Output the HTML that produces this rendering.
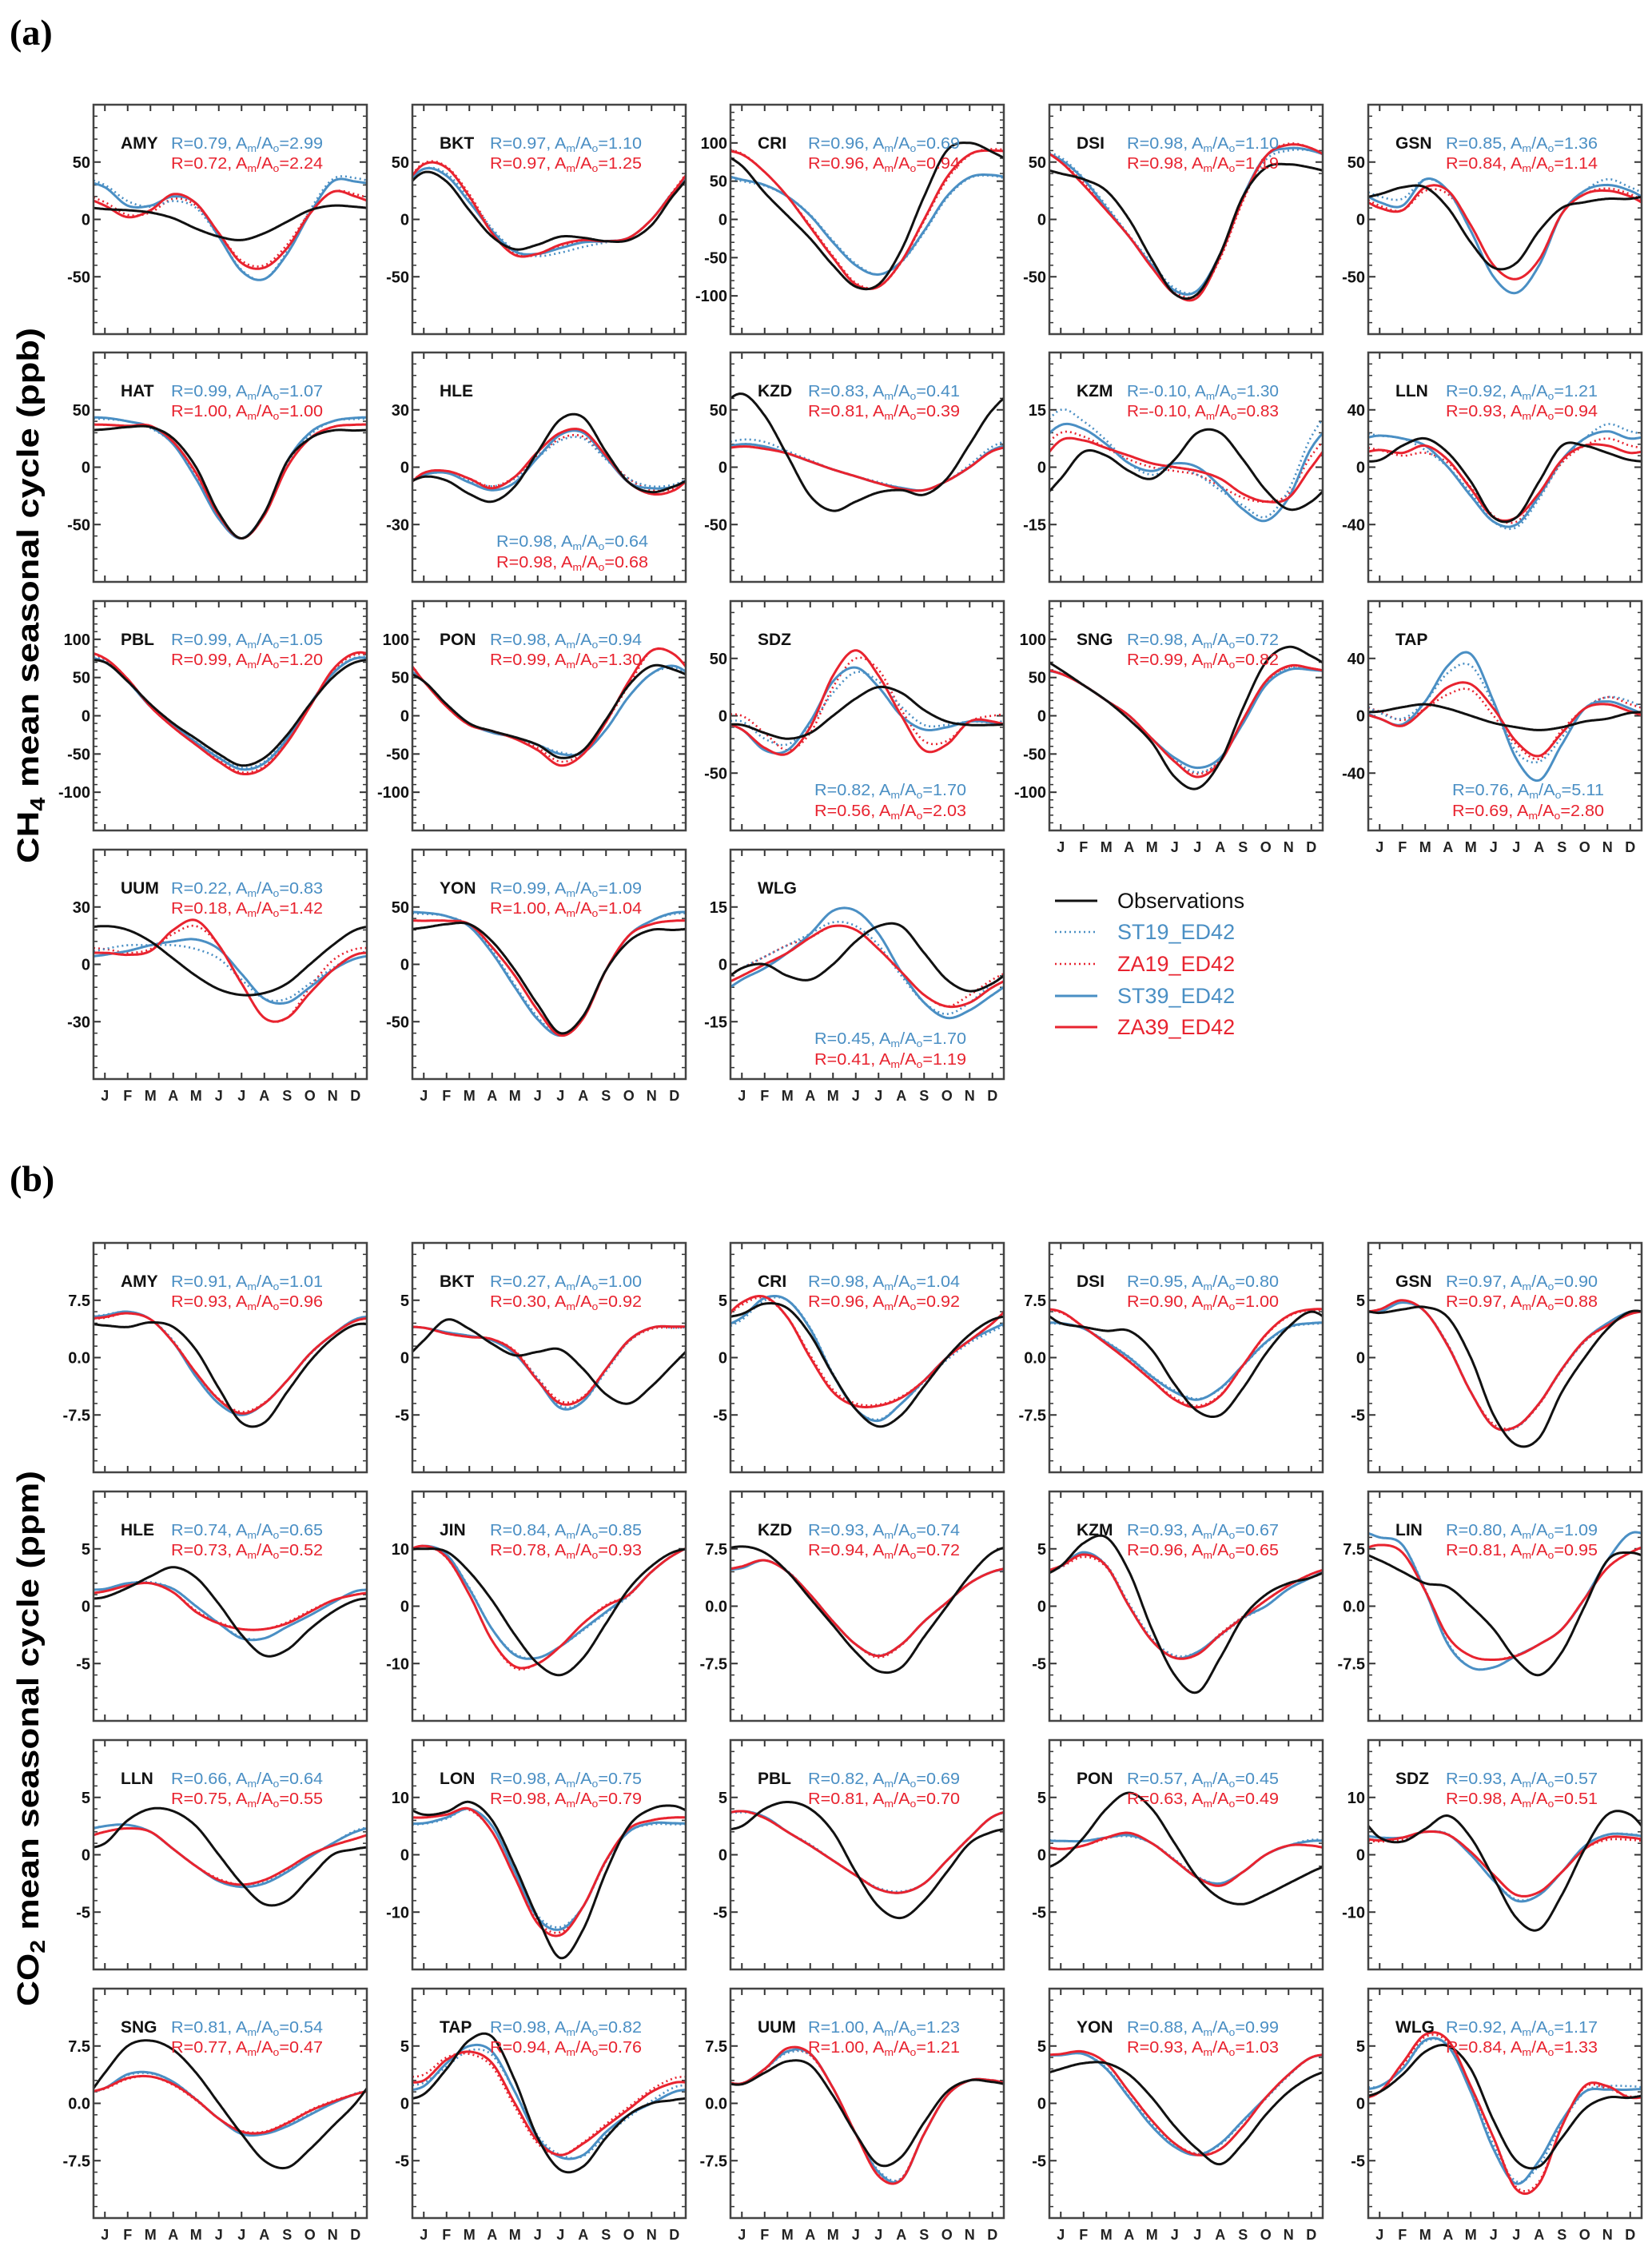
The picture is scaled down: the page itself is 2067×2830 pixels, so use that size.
<!DOCTYPE html>
<html><head><meta charset="utf-8">
<style>
html,body{margin:0;padding:0;background:#fff;}
svg{display:block;font-family:"Liberation Sans",Arial,sans-serif;}
</style></head>
<body>
<svg id="fig" xmlns="http://www.w3.org/2000/svg" width="2067" height="2830" viewBox="0 0 2067 2830">
<rect x="0" y="0" width="2067" height="2830" fill="#fff"/>
<text x="12" y="56" font-family="Liberation Serif, serif" font-weight="bold" font-size="46">(a)</text>
<text x="12" y="1490" font-family="Liberation Serif, serif" font-weight="bold" font-size="46">(b)</text>
<text transform="translate(48,745) rotate(-90)" text-anchor="middle" font-weight="bold" font-size="38" textLength="670" lengthAdjust="spacingAndGlyphs">CH<tspan font-size="26" dy="8">4</tspan><tspan dy="-8"> mean seasonal cycle (ppb)</tspan></text>
<text transform="translate(48,2175) rotate(-90)" text-anchor="middle" font-weight="bold" font-size="38" textLength="670" lengthAdjust="spacingAndGlyphs">CO<tspan font-size="26" dy="8">2</tspan><tspan dy="-8"> mean seasonal cycle (ppm)</tspan></text>
<g id="legend">
  <line x1="1320" y1="1127" x2="1373" y2="1127" stroke="#111" stroke-width="3"/>
  <text x="1398" y="1136" font-size="27" fill="#111">Observations</text>
  <line x1="1320" y1="1166" x2="1373" y2="1166" stroke="#4a8fc4" stroke-width="2.5" stroke-dasharray="2,4"/>
  <text x="1398" y="1175" font-size="27" fill="#4a8fc4">ST19_ED42</text>
  <line x1="1320" y1="1206" x2="1373" y2="1206" stroke="#e8232f" stroke-width="2.5" stroke-dasharray="2,4"/>
  <text x="1398" y="1215" font-size="27" fill="#e8232f">ZA19_ED42</text>
  <line x1="1320" y1="1246" x2="1373" y2="1246" stroke="#4a8fc4" stroke-width="3"/>
  <text x="1398" y="1255" font-size="27" fill="#4a8fc4">ST39_ED42</text>
  <line x1="1320" y1="1285" x2="1373" y2="1285" stroke="#e8232f" stroke-width="3"/>
  <text x="1398" y="1294" font-size="27" fill="#e8232f">ZA39_ED42</text>
</g>
<g id="panels"></g>
</svg>
<script>
// ===== CH4 data =====
const ch4Stations=["AMY","BKT","CRI","DSI","GSN","HAT","HLE","KZD","KZM","LLN","PBL","PON","SDZ","SNG","TAP","UUM","YON","WLG"];
const ch4Ymax=[100,100,150,100,100,100,60,100,30,80,150,150,100,150,80,60,100,30];
const ch4Step=[50,50,50,50,50,50,30,50,15,40,50,50,50,50,40,30,50,15];
const ch4StatsBottom=[0,0,0,0,0,0,1,0,0,0,0,0,1,0,1,0,0,1];
const ch4R_ST=["0.79","0.97","0.96","0.98","0.85","0.99","0.98","0.83","-0.10","0.92","0.99","0.98","0.82","0.98","0.76","0.22","0.99","0.45"];
const ch4A_ST=["2.99","1.10","0.69","1.10","1.36","1.07","0.64","0.41","1.30","1.21","1.05","0.94","1.70","0.72","5.11","0.83","1.09","1.70"];
const ch4R_ZA=["0.72","0.97","0.96","0.98","0.84","1.00","0.98","0.81","-0.10","0.93","0.99","0.99","0.56","0.99","0.69","0.18","1.00","0.41"];
const ch4A_ZA=["2.24","1.25","0.94","1.19","1.14","1.00","0.68","0.39","0.83","0.94","1.20","1.30","2.03","0.82","2.80","1.42","1.04","1.19"];
const ch4Obs=[
[9,8,6,1,-8,-15,-18,-12,-2,8,12,11],
[41,33,8,-15,-26,-22,-15,-16,-19,-18,-5,22],
[70,35,5,-25,-60,-88,-85,-40,30,90,100,88],
[40,35,25,0,-35,-65,-65,-30,20,45,48,45],
[22,28,28,10,-20,-42,-38,-10,10,15,18,18],
[33,35,35,25,0,-40,-62,-40,5,25,32,32],
[-5,-7,-14,-18,-10,8,25,26,8,-8,-13,-10],
[64,45,10,-25,-38,-30,-22,-20,-24,-10,20,50],
[-3,4,3,-1,-3,2,9,9,2,-6,-11,-9],
[5,15,20,10,-10,-35,-35,-10,15,15,10,5],
[70,45,15,-10,-30,-50,-65,-55,-25,15,50,70],
[45,15,-10,-20,-28,-38,-55,-45,-5,40,65,60],
[-8,-15,-20,-15,0,15,25,20,5,-5,-8,-8],
[60,40,20,-5,-35,-80,-95,-60,10,70,90,78],
[3,6,8,5,0,-5,-8,-10,-8,-4,-2,2],
[20,18,12,3,-6,-13,-16,-15,-10,0,10,18],
[32,35,35,20,-5,-35,-60,-45,-5,20,30,30],
[-1,0,-3,-4,0,6,10,10,3,-4,-7,-5]];
const ch4ST19=[
[30,16,11,16,10,-15,-44,-52,-28,8,35,36],
[44,40,18,-8,-27,-32,-29,-24,-20,-16,0,25],
[50,44,30,6,-28,-58,-72,-56,-17,28,54,57],
[54,36,12,-14,-38,-60,-62,-32,18,52,60,60],
[20,18,35,25,-10,-50,-64,-40,5,25,35,28],
[42,40,34,20,-10,-45,-62,-42,3,28,40,42],
[-4,-3,-7,-10,-6,5,14,15,4,-6,-10,-9],
[24,22,14,6,-2,-8,-13,-18,-20,-12,2,18],
[15,12,7,1,-2,0,-2,-6,-10,-13,-6,8],
[22,20,12,0,-18,-38,-42,-22,4,20,30,25],
[72,46,12,-12,-34,-54,-68,-60,-28,15,56,76],
[45,15,-10,-22,-28,-38,-48,-48,-18,25,55,62],
[-5,-20,-25,-8,20,38,30,8,-8,-8,-5,-6],
[56,40,20,0,-30,-58,-74,-58,-8,42,62,60],
[2,-2,10,30,35,8,-25,-32,-15,5,13,10],
[8,10,10,10,8,3,-8,-18,-18,-10,-2,5],
[44,42,34,12,-18,-46,-62,-46,-5,25,38,44],
[-1,2,5,8,11,10,5,-3,-10,-13,-10,-5]];
const ch4ZA19=[
[15,4,6,18,12,-12,-36,-40,-22,6,24,22],
[49,46,22,-10,-30,-31,-24,-19,-19,-16,0,26],
[86,62,30,-8,-48,-83,-88,-56,-2,52,84,92],
[50,32,9,-15,-40,-63,-66,-34,16,55,66,62],
[12,8,25,22,-5,-40,-52,-35,5,22,27,22],
[37,36,35,22,-6,-42,-62,-42,0,25,35,37],
[-3,-2,-6,-10,-5,6,15,16,5,-6,-12,-11],
[20,18,12,5,-2,-8,-14,-19,-20,-12,0,15],
[9,8,5,2,0,-1,-2,-5,-8,-9,-7,3],
[12,8,10,3,-14,-34,-38,-20,3,15,20,15],
[74,47,12,-14,-36,-58,-74,-66,-34,12,58,80],
[45,12,-12,-20,-30,-42,-60,-48,-8,40,85,80],
[0,-15,-30,-15,25,50,40,5,-22,-22,-5,0],
[55,40,20,0,-30,-58,-76,-58,-6,44,64,62],
[3,-3,5,15,18,0,-20,-30,-10,5,13,8],
[8,6,8,16,20,10,-10,-28,-28,-12,2,8],
[38,38,35,15,-10,-40,-62,-47,-5,25,35,38],
[-1,2,5,7,10,9,4,-2,-8,-11,-8,-4]];
const ch4ST39=[
[28,12,12,20,14,-15,-45,-52,-30,5,33,33],
[44,38,15,-10,-28,-30,-25,-20,-19,-16,0,25],
[52,45,30,5,-30,-60,-72,-55,-15,30,55,58],
[52,35,10,-15,-40,-62,-62,-30,20,55,62,60],
[15,12,35,25,-10,-50,-64,-40,5,25,30,25],
[43,40,35,20,-10,-45,-62,-40,5,30,40,43],
[-4,-3,-8,-12,-8,5,17,18,5,-8,-11,-10],
[20,18,12,5,-2,-8,-14,-18,-20,-12,0,15],
[11,10,6,1,-1,1,0,-5,-11,-14,-8,5],
[22,20,15,0,-20,-38,-40,-20,5,20,25,20],
[70,45,12,-12,-35,-55,-70,-62,-30,15,55,75],
[45,15,-10,-22,-28,-38,-50,-48,-18,25,55,65],
[-12,-30,-30,-5,30,42,25,0,-12,-10,-5,-6],
[55,40,20,0,-30,-55,-68,-55,-10,40,60,60],
[-2,-6,10,35,43,10,-30,-45,-20,5,10,5],
[5,7,10,12,13,8,-5,-18,-20,-12,-3,3],
[45,42,33,10,-20,-48,-62,-45,-5,25,38,45],
[-4,-1,3,8,14,14,8,-2,-10,-14,-12,-8]];
const ch4ZA39=[
[12,2,8,22,14,-12,-38,-42,-25,5,24,20],
[48,45,20,-12,-31,-30,-22,-18,-19,-16,0,25],
[85,62,30,-10,-50,-85,-88,-55,0,55,85,90],
[50,30,8,-15,-42,-65,-68,-32,18,55,65,62],
[10,8,28,25,-5,-40,-52,-35,5,22,25,20],
[37,36,36,22,-5,-42,-62,-42,0,25,35,37],
[-3,-2,-6,-11,-5,8,18,19,6,-8,-14,-12],
[18,16,12,5,-2,-8,-14,-19,-20,-12,0,14],
[7,7,5,3,1,0,-1,-3,-7,-9,-8,0],
[12,10,15,5,-15,-35,-35,-18,5,15,15,10],
[75,48,12,-15,-38,-60,-76,-68,-35,12,60,82],
[45,12,-12,-20,-30,-45,-65,-50,-8,45,85,80],
[-12,-28,-33,-10,35,57,35,0,-30,-25,-5,-5],
[55,40,20,0,-30,-60,-80,-60,-5,45,65,62],
[-2,-7,5,20,22,5,-18,-28,-12,5,8,3],
[6,5,7,18,23,10,-10,-28,-28,-15,-3,5],
[38,38,35,15,-10,-40,-62,-47,-5,25,35,38],
[-3,0,3,7,10,9,4,-2,-8,-11,-10,-6]];

// ===== CO2 data =====
const co2Stations=["AMY","BKT","CRI","DSI","GSN","HLE","JIN","KZD","KZM","LIN","LLN","LON","PBL","PON","SDZ","SNG","TAP","UUM","YON","WLG"];
const co2Ymax=[15,10,10,15,10,10,20,15,10,15,10,20,10,10,20,15,10,15,10,10];
const co2Step=[7.5,5,5,7.5,5,5,10,7.5,5,7.5,5,10,5,5,10,7.5,5,7.5,5,5];
const co2R_ST=["0.91","0.27","0.98","0.95","0.97","0.74","0.84","0.93","0.93","0.80","0.66","0.98","0.82","0.57","0.93","0.81","0.98","1.00","0.88","0.92"];
const co2A_ST=["1.01","1.00","1.04","0.80","0.90","0.65","0.85","0.74","0.67","1.09","0.64","0.75","0.69","0.45","0.57","0.54","0.82","1.23","0.99","1.17"];
const co2R_ZA=["0.93","0.30","0.96","0.90","0.97","0.73","0.78","0.94","0.96","0.81","0.75","0.98","0.81","0.63","0.98","0.77","0.94","1.00","0.93","0.84"];
const co2A_ZA=["0.96","0.92","0.92","1.00","0.88","0.52","0.93","0.72","0.65","0.95","0.55","0.79","0.70","0.49","0.51","0.47","0.76","1.21","1.03","1.33"];
const co2Obs=[
[4.2,4.0,4.6,4.0,1,-4,-8.5,-8.5,-4.5,-0.5,2.5,4.3],
[1.5,3.3,2.5,1.2,0.2,0.5,0.7,-1,-3.2,-4,-2.5,-0.5],
[3.8,4.7,4.3,2,-1.5,-4.5,-6,-5,-2.5,0,2,3.3],
[4.5,4,3.5,3.5,1,-3.5,-7,-7.5,-4,0.5,4,6],
[3.9,4.2,4.4,3.5,0,-5,-7.6,-7,-3,0,2.5,4],
[0.8,1.6,2.6,3.4,2.5,0.2,-2.5,-4.3,-3.8,-2,-0.5,0.5],
[10,9.5,6,1,-5,-10,-12,-9,-3,3,7,9.5],
[7.8,7,4.5,1,-2.5,-6,-8.5,-8,-4,0,4,7],
[3.5,5.5,6,3,-2,-6,-7.5,-4.5,-1,1,2,2.5],
[6,4.5,3,2.5,0,-3,-7,-9,-6,0,6,7],
[1,3,4,3.8,2.5,0,-2.5,-4.3,-4,-2,0,0.5],
[7,7.5,9.2,6,-2,-11,-18,-13,-3,5,8,8.5],
[2.5,4,4.6,4,2,-1.5,-4.5,-5.5,-4,-1.5,1,2],
[-0.5,1.5,4,5.4,4,1,-2,-3.8,-4.3,-3.5,-2.5,-1.5],
[3,2.3,4.5,6.8,3,-4,-11,-13,-7,1,7,7],
[4,7.5,8.2,7,4,0,-4,-7.5,-8.4,-6,-3,0],
[0.8,3,5.5,5.8,2,-3,-5.8,-5.5,-3,-1,0,0.3],
[2.5,4,5.5,5,1,-4,-8,-7,-2.5,1.5,3,2.8],
[3,3.5,3.5,2.5,0.5,-2,-4,-5.3,-3.5,-1,1,2.3],
[1,2.5,4.5,5,3,-1.5,-5,-5.5,-3,-0.5,0.5,0.5]];
const co2ST19=[
[5.6,6,5,2.2,-2.3,-6,-7.4,-6,-3,0.4,3,5],
[2.6,2.1,1.8,1.6,0.4,-1.8,-4.2,-3.8,-1.2,1.4,2.6,2.6],
[3.3,5,5,2.6,-1.4,-4.5,-5.4,-4,-2.1,-0.2,1.3,2.3],
[4.4,3.8,2.1,0.1,-2.4,-4.3,-5.4,-4.1,-1.1,1.9,3.9,4.4],
[4,4.8,4,1.1,-3,-6,-6.1,-4,-1.1,1.4,2.9,3.9],
[1.5,2,2.1,1.5,0,-1.5,-2.7,-2.8,-1.8,-0.8,0.3,1.3],
[10.5,9,3.2,-4,-8.3,-9,-7,-4.2,-1.2,1.8,6,9],
[5,6,4.6,1.5,-2,-5,-6.4,-5,-2,0.4,3,4.5],
[3.4,4.6,3.6,0.2,-2.8,-4.3,-4,-2.6,-1.1,0,1.5,2.5],
[9,8,2.2,-4.8,-8,-8,-6.5,-5,-3,1,6,9.5],
[2.5,2.6,2,0.5,-1,-2.3,-2.7,-2.4,-1.4,-0.1,1,2.1],
[5.4,6.3,8,5,-3,-10.6,-12.6,-9,-1.2,4,5.3,5.3],
[3.7,3.3,2,0.9,-0.5,-1.8,-2.9,-3.2,-2.5,-0.5,1.5,3.3],
[1.2,1.2,1.5,1.6,1,-0.4,-1.9,-2.5,-1.5,0,0.8,1.3],
[3,3,4,3.6,0,-4.5,-7.8,-7,-3,1.5,3.5,3.6],
[2,3.7,3.9,2.8,0.6,-2,-3.8,-3.9,-2.9,-1.4,0,1.3],
[1.8,3.2,4.6,4.2,1,-2.8,-4.5,-4.6,-2.8,-1.2,0.2,1.4],
[2.6,4.5,6.6,6.3,2,-4,-8.8,-9.8,-4,1,3,3],
[4.2,4.3,3.1,0.6,-1.8,-3.7,-4.4,-3.6,-1.6,0.4,2.4,4],
[1.5,3,5.4,5,1.2,-3.6,-6.8,-5.4,-1.8,1,1.5,1.5]];
const co2ZA19=[
[5.2,5.8,5,2.1,-2,-5.4,-7.1,-5.9,-3,0.5,3,4.8],
[2.6,2.1,1.8,1.6,0.6,-1.8,-3.8,-3.4,-1,1.4,2.5,2.6],
[4.6,5.2,3.5,0.2,-2.8,-4,-4.1,-3.4,-2,0,1.5,3],
[5.9,4,1.9,-0.4,-2.9,-5.3,-6.3,-4.9,-1.1,2.9,5.4,6.2],
[4.2,5,4,1.1,-3,-5.8,-6,-4.1,-1,1.4,2.8,3.8],
[1.3,1.8,2,1.2,-0.4,-1.4,-2,-2,-1.4,-0.4,0.5,1],
[10.5,8.4,2,-6,-10.8,-10,-7,-3,0.2,2,6,9],
[5.2,6,4.5,1.5,-2,-5,-6.7,-5.1,-2,0.5,3,4.5],
[3.4,4.3,3.4,0,-3,-4.4,-4.2,-2.4,-0.9,0.5,1.8,2.8],
[8,7,2,-4,-6.5,-7,-6.4,-5,-3,1,5,7],
[2,2.3,2,0.5,-1,-2.1,-2.6,-2.2,-1.2,0,0.8,1.4],
[6.5,7,7.8,4,-4,-11.6,-13.5,-9,-1,4.5,6,6.5],
[3.8,3.2,2,0.8,-0.5,-1.8,-3,-3.3,-2.5,-0.5,1.5,3.3],
[0.5,0.8,1.4,1.8,1,-0.5,-2,-2.6,-1.5,0,0.8,0.8],
[2.3,2.6,4,3.5,0.5,-3.5,-7,-6.5,-3,1,2.6,2.6],
[1.9,3.2,3.5,2.4,0.4,-2,-3.6,-3.7,-2.5,-0.9,0.3,1.2],
[2.5,4,4.3,3.2,-0.3,-3.5,-4.5,-3.4,-1.8,-0.3,1.2,2.2],
[2.6,4.4,6.8,6.3,2,-4,-9.3,-9.8,-4,1,3,3],
[4.3,4.5,3.5,1,-1.5,-3.5,-4.4,-4,-2,0.5,2.5,4],
[1,3.3,5.8,5.3,1.3,-3,-7.3,-6.8,-2,1.4,1.3,0.6]];
const co2ST39=[
[5.5,6,5,2,-2.5,-6,-7.5,-6,-3,0.5,3,5],
[2.6,2.2,1.9,1.5,0.3,-2,-4.4,-3.8,-1,1.5,2.6,2.7],
[3.5,5.2,5,2.5,-1.5,-4.5,-5.5,-4,-2,0,1.5,2.5],
[4.5,3.8,2,0,-2.5,-4.5,-5.5,-4,-1,2,4,4.5],
[4,4.8,4,1,-3,-6,-6,-4,-1,1.5,3,4],
[1.5,2,2,1.5,0,-1.5,-2.8,-2.8,-1.8,-0.8,0.3,1.3],
[10.5,9,3,-4,-8.5,-9,-7,-4,-1,2,6,9],
[5,6,4.5,1.5,-2,-5,-6.5,-5,-2,0.5,3,4.5],
[3.5,4.7,3.5,0,-3,-4.5,-4,-2.5,-1,0,1.5,2.5],
[9,8,2,-5,-8,-8,-6.5,-5,-3,1,6,9.5],
[2.5,2.6,2,0.5,-1,-2.3,-2.8,-2.5,-1.5,-0.2,1,2],
[5.5,6.5,8,5,-3,-11,-13,-9,-1,4,5.5,5.5],
[3.8,3.3,2,0.8,-0.5,-1.8,-3,-3.3,-2.5,-0.5,1.5,3.3],
[1.2,1.2,1.5,1.7,1,-0.5,-2,-2.5,-1.5,0,0.8,1.2],
[3,3,4,3.5,0,-4.5,-8,-7,-3,1.5,3.5,3.5],
[2,3.8,4,2.8,0.5,-2,-4,-4,-3,-1.5,0,1.2],
[1.5,3.5,5,4.5,1,-3,-4.7,-4.5,-2.5,-1,0,1],
[2.6,4.5,6.8,6.5,2,-4,-9,-10,-4,1,3,3],
[4.2,4.3,3,0.5,-2,-3.8,-4.5,-3.5,-1.5,0.5,2.5,4],
[1.5,3,5.5,5,1,-4,-7,-5,-1.5,1,1.2,1.2]];
const co2ZA39=[
[5.3,5.8,5,2,-2,-5.5,-7.3,-6,-3,0.5,3,4.8],
[2.6,2.1,1.8,1.6,0.5,-2,-4,-3.5,-1,1.5,2.6,2.7],
[4.8,5.3,3.5,0,-3,-4.2,-4.2,-3.5,-2,0,1.5,3],
[6,4,1.8,-0.5,-3,-5.5,-6.5,-5,-1,3,5.5,6.3],
[4.2,5,4,1,-3,-6,-6,-4,-1,1.5,2.8,3.8],
[1.3,1.8,2,1.2,-0.5,-1.5,-2,-2,-1.5,-0.5,0.5,1],
[10.5,8.5,2,-6,-10.5,-10,-7,-3,0,2,6,9],
[5.2,6,4.5,1.5,-2,-5,-6.5,-5,-2,0.5,3,4.5],
[3.5,4.5,3.5,0,-3,-4.5,-4.2,-2.5,-1,0.5,1.8,2.8],
[8,7,2,-4,-6.5,-7,-6.5,-5,-3,1,5,7],
[2,2.3,2,0.5,-1,-2.2,-2.6,-2.2,-1.2,0,0.8,1.4],
[6.5,7,8,4,-4,-12,-14,-9,-1,4.5,6,6.5],
[3.8,3.2,2,0.8,-0.5,-1.8,-3,-3.3,-2.5,-0.5,1.5,3.3],
[0.5,0.8,1.5,1.9,1,-0.5,-2,-2.7,-1.5,0,0.8,0.8],
[2.5,3,4,3.5,0.5,-3.5,-7,-6.5,-3,1,3,3],
[2,3.3,3.5,2.5,0.5,-2,-3.7,-3.8,-2.6,-1,0.2,1.2],
[2,3.8,4.5,3.5,0,-3.3,-4.5,-3.5,-2,-0.5,1,1.8],
[2.6,4.5,7.2,6.5,2,-4,-9.5,-10,-4,1,3,3],
[4.3,4.5,3.5,1,-1.5,-3.5,-4.5,-4,-2,0.5,2.5,4],
[1,3.5,6,5.5,1.5,-3,-7.5,-7,-2,1.5,1.5,0.5]];

const months=["J","F","M","A","M","J","J","A","S","O","N","D"];

// ===== layout =====
const NS="http://www.w3.org/2000/svg";
const PW=342, PH=287;
const colX=[117,516,914,1313,1712];
const aTops=[131,441,752,1063];
const bTops=[1555,1866,2177,2488];
const BLUE="#4a8fc4", RED="#e8232f", BLACK="#111";
const root=document.getElementById("panels");

function mk(tag,attrs,parent){
  const e=document.createElementNS(NS,tag);
  for(const k in attrs) e.setAttribute(k,attrs[k]);
  if(parent) parent.appendChild(e);
  return e;
}
function xScale(left,t){ return left+(t+0.5)*PW/12; }
function yScale(top,ymax,v){ return top+PH/2-v/ymax*(PH/2); }
function curvePath(left,top,ymax,vals){
  const n=12; const p=i=>vals[((i%n)+n)%n];
  let d="";
  for(let k=0;k<=240;k++){
    const t=-0.5+k*12/240;
    const i=Math.floor(t), f=t-i;
    const p0=p(i-1),p1=p(i),p2=p(i+1),p3=p(i+2);
    const v=0.5*((2*p1)+(-p0+p2)*f+(2*p0-5*p1+4*p2-p3)*f*f+(-p0+3*p1-3*p2+p3)*f*f*f);
    const x=xScale(left,t), y=yScale(top,ymax,v);
    d+=(k?"L":"M")+x.toFixed(1)+","+y.toFixed(1);
  }
  return d;
}
function statsText(g,x,y,color,R,A,name){
  const t=mk("text",{x:x,y:y,fill:color,"font-size":20,textLength:190,lengthAdjust:"spacingAndGlyphs"},g);
  
  
  t.appendChild(document.createTextNode("R="+R+", A"));
  const s1=mk("tspan",{"font-size":13,dy:4},t); s1.textContent="m";
  const s2=mk("tspan",{dy:-4},t); s2.textContent="/A";
  const s3=mk("tspan",{"font-size":13,dy:4},t); s3.textContent="o";
  const s4=mk("tspan",{dy:-4},t); s4.textContent="="+A;
}
function drawPanel(prefix,left,top,name,ymax,step,obs,s19,z19,s39,z39,rS,aS,rZ,aZ,bottomStats,showMonths){
  const g=mk("g",{},root);
  
  
  // y ticks
  const nMaj=Math.round(ymax/step);
  for(let k=-nMaj+1;k<=nMaj-1;k++){
    const v=k*step, y=yScale(top,ymax,v);
    mk("line",{x1:left,y1:y,x2:left+9,y2:y,stroke:"#333","stroke-width":2},g);
    mk("line",{x1:left+PW,y1:y,x2:left+PW-9,y2:y,stroke:"#333","stroke-width":2},g);
    const lab=mk("text",{x:left-4,y:y+7,"text-anchor":"end","font-weight":"bold","font-size":20,fill:"#111"},g);
    
    
    lab.textContent=(step%1!==0)?v.toFixed(1):String(v);
  }
  const minor=step/5;
  for(let v=-ymax+minor;v<ymax-1e-9;v+=minor){
    const y=yScale(top,ymax,v);
    mk("line",{x1:left,y1:y,x2:left+5,y2:y,stroke:"#333","stroke-width":1.5},g);
    mk("line",{x1:left+PW,y1:y,x2:left+PW-5,y2:y,stroke:"#333","stroke-width":1.5},g);
  }
  // x ticks
  for(let i=0;i<12;i++){
    const x=xScale(left,i);
    mk("line",{x1:x,y1:top,x2:x,y2:top+8,stroke:"#333","stroke-width":2},g);
    mk("line",{x1:x,y1:top+PH,x2:x,y2:top+PH-8,stroke:"#333","stroke-width":2},g);
    if(showMonths){
      const ml=mk("text",{x:x,y:top+PH+27,"text-anchor":"middle","font-weight":"bold","font-size":18,fill:"#222"},g);
      
      
      ml.textContent=months[i];
    }
  }
  // series
  const series=[[z19,RED,true,"za19"],[s19,BLUE,true,"st19"],[s39,BLUE,false,"st39"],[z39,RED,false,"za39"],[obs,BLACK,false,"observations"]];
  for(const [vals,col,dot,sn] of series){
    const a={d:curvePath(left,top,ymax,vals),fill:"none",stroke:col,"stroke-width":dot?2.6:3,"stroke-linejoin":"round"};
    if(dot) a["stroke-dasharray"]="2,4";
    const pth=mk("path",a,g);
    
    
  }
  // frame
  const fr=mk("rect",{x:left,y:top,width:PW,height:PH,fill:"none",stroke:"#444","stroke-width":2.5},g);
  
  
  // titles
  const st=mk("text",{x:left+34,y:top+55,"font-weight":"bold","font-size":21,fill:"#111"},g);
  
  
  st.textContent=name;
  if(bottomStats){
    statsText(g,left+105,top+PH-44,BLUE,rS,aS,'stats-st');
    statsText(g,left+105,top+PH-18,RED,rZ,aZ,'stats-za');
  } else {
    statsText(g,left+97,top+55,BLUE,rS,aS,'stats-st');
    statsText(g,left+97,top+80,RED,rZ,aZ,'stats-za');
  }
}
// CH4 panels
for(let k=0;k<ch4Stations.length;k++){
  const r=Math.floor(k/5), c=k%5;
  const show=(r===3)||(r===2&&c>=3);
  drawPanel("ch4",colX[c],aTops[r],ch4Stations[k],ch4Ymax[k],ch4Step[k],ch4Obs[k],ch4ST19[k],ch4ZA19[k],ch4ST39[k],ch4ZA39[k],ch4R_ST[k],ch4A_ST[k],ch4R_ZA[k],ch4A_ZA[k],ch4StatsBottom[k],show);
}
// CO2 panels
for(let k=0;k<co2Stations.length;k++){
  const r=Math.floor(k/5), c=k%5;
  drawPanel("co2",colX[c],bTops[r],co2Stations[k],co2Ymax[k],co2Step[k],co2Obs[k],co2ST19[k],co2ZA19[k],co2ST39[k],co2ZA39[k],co2R_ST[k],co2A_ST[k],co2R_ZA[k],co2A_ZA[k],0,r===3);
}
</script>
</body></html>
